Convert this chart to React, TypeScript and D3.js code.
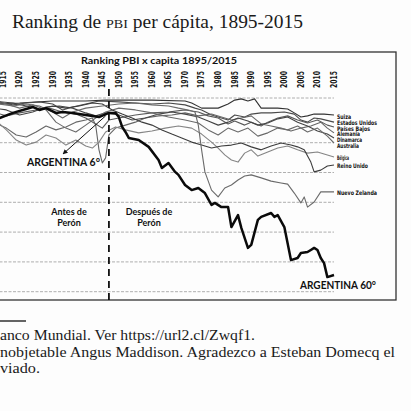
import React from "react";
import * as d3 from "d3";

type P = [number, number];

// ranks per year (rank 0 = top of chart)
const argentina: P[] = [
  [1912, 7.0], [1914, 6.7], [1918, 5.0], [1922, 3.7], [1924, 3.0], [1926, 4.0], [1928, 3.4], [1931, 5.0],
  [1933, 4.7], [1936, 5.0], [1940, 5.7], [1944, 6.4], [1947, 5.0], [1949, 5.0], [1950, 6.4],
  [1951, 9.7], [1952, 11.4], [1953, 13.4], [1956, 14.1], [1959, 16.4], [1962, 20.8], [1963, 23.5],
  [1965, 21.8], [1967, 24.8], [1968, 25.8], [1970, 29.2], [1972, 30.9], [1974, 30.2], [1976, 31.9],
  [1978, 35.9], [1979, 35.2], [1981, 36.6], [1983, 36.6], [1984, 43.3], [1986, 39.3], [1987, 43.6],
  [1989, 50.3], [1990, 49.3], [1992, 40.9], [1993, 39.9], [1996, 38.6], [1997, 39.9], [1998, 39.3],
  [2000, 43.3], [2002, 54.4], [2004, 53.7], [2005, 52.0], [2007, 51.7], [2008, 51.0], [2009, 50.3],
  [2010, 51.0], [2011, 53.7], [2012, 55.4], [2013, 60.1], [2015, 59.4],
];

const suiza: P[] = [
  [1912, 2.0], [1920, 1.7], [1930, 1.0], [1940, 1.0], [1946, 0.7], [1950, 0.7], [1960, 0.7], [1970, 1.0],
  [1972, 1.7], [1975, 3.4], [1980, 3.4], [1983, 2.0], [1985, 0.7], [1987, 0.3], [1989, 1.0], [1991, 0.3],
  [1993, 3.4], [1998, 3.4], [2001, 3.7], [2003, 5.0], [2005, 6.4], [2007, 6.0], [2009, 5.4], [2012, 5.4], [2015, 5.7],
];

const estadosUnidos: P[] = [
  [1912, 1.3], [1918, 2.3], [1922, 1.7], [1926, 1.3], [1930, 2.0], [1933, 4.0], [1936, 3.0], [1940, 2.0],
  [1944, 1.0], [1950, 1.3], [1955, 1.7], [1960, 2.0], [1965, 1.7], [1970, 2.3], [1973, 3.4], [1975, 4.0],
  [1978, 5.7], [1980, 6.4], [1983, 7.4], [1985, 5.7], [1988, 6.4], [1990, 5.4], [1993, 5.0], [1996, 5.0],
  [2000, 4.7], [2003, 5.4], [2005, 7.4], [2007, 8.1], [2009, 6.7], [2011, 7.0], [2015, 8.1],
];

const paisesBajos: P[] = [
  [1912, 4.7], [1916, 6.0], [1920, 5.0], [1925, 4.0], [1929, 3.4], [1933, 4.7], [1937, 5.4], [1940, 6.7],
  [1943, 8.7], [1945, 10.1], [1947, 7.4], [1950, 6.7], [1955, 5.7], [1960, 5.0], [1965, 4.7], [1970, 4.0],
  [1974, 4.7], [1977, 6.0], [1980, 6.7], [1983, 8.7], [1985, 7.7], [1988, 9.1], [1990, 8.1], [1993, 9.4],
  [1995, 8.1], [1998, 6.7], [2001, 6.0], [2004, 7.4], [2007, 8.4], [2010, 7.4], [2013, 9.1], [2015, 9.7],
];

const alemania: P[] = [
  [1912, 8.1], [1916, 10.1], [1919, 12.4], [1922, 13.1], [1925, 11.4], [1928, 9.4], [1931, 10.7],
  [1934, 9.7], [1937, 8.1], [1940, 7.4], [1942, 6.7], [1943, 9.1], [1944, 17.4], [1945, 21.8],
  [1946, 20.1], [1947, 12.4], [1949, 10.1], [1952, 9.1], [1955, 8.1], [1958, 6.7], [1962, 6.0],
  [1966, 5.7], [1970, 5.0], [1974, 6.0], [1978, 5.4], [1981, 6.4], [1984, 7.4], [1987, 6.7], [1990, 6.0],
  [1993, 8.7], [1996, 9.4], [1999, 10.1], [2002, 11.1], [2005, 10.1], [2008, 9.4], [2011, 8.1],
  [2013, 10.1], [2015, 11.7],
];

const dinamarca: P[] = [
  [1912, 3.4], [1916, 4.0], [1920, 5.7], [1924, 4.7], [1928, 3.0], [1932, 2.7], [1936, 3.4], [1940, 5.0],
  [1943, 6.0], [1946, 5.0], [1950, 5.7], [1954, 7.4], [1958, 6.7], [1962, 5.4], [1966, 4.7], [1970, 5.4],
  [1974, 6.4], [1977, 7.7], [1980, 9.1], [1983, 8.1], [1986, 6.7], [1989, 7.7], [1992, 9.1], [1995, 8.4],
  [1998, 7.0], [2001, 6.4], [2004, 8.1], [2007, 9.4], [2010, 11.1], [2013, 12.1], [2015, 13.4],
];

const australia: P[] = [
  [1912, 0.7], [1916, 2.0], [1920, 3.4], [1924, 2.3], [1928, 4.0], [1931, 8.1], [1934, 10.1], [1937, 11.4],
  [1940, 9.1], [1943, 6.7], [1946, 4.7], [1950, 3.4], [1955, 4.0], [1960, 5.0], [1965, 6.4], [1970, 7.4],
  [1974, 8.4], [1977, 10.7], [1980, 12.4], [1983, 10.1], [1986, 11.4], [1989, 10.1], [1992, 12.8],
  [1995, 11.7], [1998, 10.1], [2001, 10.7], [2004, 9.4], [2007, 11.4], [2010, 10.1], [2013, 12.8], [2015, 15.1],
];

const belgica: P[] = [
  [1912, 6.7], [1916, 10.7], [1919, 14.1], [1922, 15.8], [1925, 14.8], [1928, 12.4], [1931, 13.4],
  [1934, 15.8], [1937, 14.1], [1940, 16.1], [1942, 16.8], [1944, 14.8], [1946, 11.4], [1949, 9.7],
  [1952, 10.7], [1956, 11.7], [1960, 11.1], [1964, 10.1], [1968, 9.4], [1972, 10.1], [1975, 12.1],
  [1978, 14.8], [1980, 16.8], [1982, 19.1], [1984, 20.8], [1986, 21.5], [1988, 18.5], [1990, 17.4],
  [1992, 19.5], [1995, 18.1], [1998, 16.8], [2001, 16.1], [2004, 17.4], [2007, 18.5], [2010, 18.1],
  [2013, 19.1], [2015, 19.8],
];

const reinoUnido: P[] = [
  [1912, 1.0], [1918, 1.7], [1922, 2.7], [1926, 3.7], [1930, 2.7], [1934, 3.4], [1938, 2.7], [1942, 1.7],
  [1945, 2.0], [1948, 4.0], [1951, 5.4], [1954, 6.7], [1957, 8.1], [1960, 9.1], [1963, 10.7], [1966, 12.1],
  [1969, 13.4], [1972, 14.8], [1975, 15.8], [1978, 16.8], [1981, 16.1], [1984, 15.8], [1987, 15.1],
  [1990, 16.4], [1993, 17.4], [1996, 16.1], [1999, 15.1], [2002, 15.8], [2004, 16.4], [2006, 17.4],
  [2008, 21.5], [2009, 24.8], [2011, 24.2], [2013, 22.8], [2015, 22.5],
];

const nuevaZelanda: P[] = [
  [1912, 1.7], [1918, 2.7], [1922, 2.0], [1926, 2.7], [1930, 4.7], [1933, 6.7], [1936, 4.7], [1940, 3.4],
  [1945, 2.7], [1950, 2.0], [1955, 1.7], [1960, 2.3], [1965, 2.7], [1968, 3.4], [1971, 4.0], [1973, 4.7],
  [1974, 9.1], [1975, 17.4], [1976, 24.8], [1978, 30.9], [1980, 33.2], [1982, 30.2], [1984, 29.2],
  [1986, 27.5], [1988, 26.2], [1990, 25.8], [1993, 26.8], [1996, 27.9], [1999, 28.5], [2001, 28.9],
  [2003, 31.9], [2005, 35.2], [2006, 33.2], [2007, 36.6], [2009, 34.9], [2011, 31.5], [2015, 31.5],
];

const countryNames = [
  "Suiza", "Estados Unidos", "Países Bajos", "Alemania", "Dinamarca", "Australia", "Bélgica", "Reino Unido", "Nuevo Zelanda",
];
const countrySeries = [suiza, estadosUnidos, paisesBajos, alemania, dinamarca, australia, belgica, reinoUnido, nuevaZelanda];

const yearTicks = d3.range(1915, 2016, 5);
const gridRanks = [0, 15, 25, 35, 45, 55, 65];
const peronYear = 1947;

const pageTitle = "Ranking de ";
const pageTitleSc = "PBI";
const pageTitleEnd = " per cápita, 1895-2015";
const chartTitle = "Ranking PBI x capita 1895/2015";
const footLines = [
  "anco Mundial. Ver https://url2.cl/Zwqf1.",
  "nobjetable Angus Maddison. Agradezco a Esteban Domecq el",
  "viado.",
];

export default function App() {
  const x = d3.scaleLinear().domain([1915, 2015]).range([3, 334]);
  const y = d3.scaleLinear().domain([0, 65]).range([98, 291.7]);
  const line = d3.line<P>().x((d) => x(d[0])).y((d) => y(d[1]));

  const seriesColors = ["#333", "#4a4a4a", "#5a5a5a", "#666", "#444", "#6a6a6a", "#858585", "#3c3c3c", "#6a6a6a"];
  const labelY = [116.5, 122.5, 128.5, 134.3, 140.1, 146, 157.5, 166, 192.5];
  const labelW = [14, 40, 33, 23, 25, 22, 12, 31, 40];
  const footW = [255, 395, 40];
  const cond = "'DejaVu Sans Condensed', 'DejaVu Sans', sans-serif";
  const bold = "Lato, 'DejaVu Sans', sans-serif";
  const serif = "'Liberation Serif', 'DejaVu Serif', serif";

  return (
    <svg
      width={411}
      height={411}
      style={{ position: "absolute", left: 0, top: 0, background: "#fdfdfd" }}
    >
      <rect x={0} y={0} width={411} height={411} fill="#fdfdfd" />
      {/* page title */}
      <text x={12} y={28} fontFamily={serif} fontSize={18} fill="#1a1a1a" textLength={291} lengthAdjust="spacingAndGlyphs">
        {pageTitle}
        <tspan fontSize={13}>{pageTitleSc}</tspan>
        {pageTitleEnd}
      </text>

      {/* frame */}
      <rect x={-5} y={52} width={401} height={248} fill="none" stroke="#333" strokeWidth={1.3} />

      <text x={159} y={64} textAnchor="middle" fontFamily={bold} fontWeight={700} fontSize={10} fill="#111" textLength={156} lengthAdjust="spacingAndGlyphs">
        {chartTitle}
      </text>

      {/* year labels */}
      {yearTicks.map((t) => (
        <text
          key={t}
          transform={`translate(${x(t)},88) rotate(-90)`}
          dy="0.36em"
          fontFamily={cond}
          fontWeight={700}
          fontSize={8}
          fill="#111"
          textLength={17}
          lengthAdjust="spacingAndGlyphs"
        >
          {t}
        </text>
      ))}

      {/* grid */}
      {gridRanks.map((r) => (
        <line key={r} x1={-5} x2={x(2015)} y1={y(r)} y2={y(r)} stroke="#9a9a9a" strokeWidth={0.8} strokeDasharray="3 1.5" />
      ))}

      {/* country lines */}
      {countrySeries.map((s, i) => (
        <path key={i} d={line(s) || ""} fill="none" stroke={seriesColors[i]} strokeWidth={1.1} strokeLinejoin="round" />
      ))}

      {/* Argentina */}
      <path d={line(argentina) || ""} fill="none" stroke="#0a0a0a" strokeWidth={2.5} strokeLinejoin="round" />

      {/* Perón dashed line */}
      <line x1={x(peronYear)} x2={x(peronYear)} y1={89} y2={300} stroke="#111" strokeWidth={1.8} strokeDasharray="7 5" />

      {/* country labels */}
      {countryNames.map((n, i) => (
        <text
          key={n}
          x={337}
          y={labelY[i]}
          dy="0.35em"
          fontFamily={cond}
          fontWeight={700}
          fontSize={6.2}
          fill="#111"
          textLength={labelW[i]}
          lengthAdjust="spacingAndGlyphs"
        >
          {n}
        </text>
      ))}

      {/* Argentina annotations */}
      <defs>
        <marker id="ah" viewBox="0 0 10 10" refX={9} refY={5} markerWidth={5} markerHeight={5} orient="auto">
          <path d="M0,0 L10,5 L0,10 z" fill="#111" />
        </marker>
      </defs>
      <line x1={x(1946)} y1={y(6)} x2={63} y2={154} stroke="#111" strokeWidth={1} markerEnd="url(#ah)" />
      <text x={27} y={166} fontFamily={bold} fontWeight={700} fontSize={10.5} fill="#111" textLength={73} lengthAdjust="spacingAndGlyphs">
        ARGENTINA 6°
      </text>
      <text x={300} y={289} fontFamily={bold} fontWeight={700} fontSize={10.5} fill="#111" textLength={76} lengthAdjust="spacingAndGlyphs">
        ARGENTINA 60°
      </text>

      <g fontFamily={bold} fontWeight={700} fontSize={9} fill="#111" textAnchor="middle">
        <text x={69} y={215}>Antes de</text>
        <text x={69} y={226}>Perón</text>
        <text x={149} y={215}>Después de</text>
        <text x={149} y={226}>Perón</text>
      </g>

      {/* footnote */}
      <line x1={0} x2={26} y1={321} y2={321} stroke="#222" strokeWidth={1.4} />
      {footLines.map((t, i) => (
        <text key={i} x={0} y={340 + i * 16.5} fontFamily={serif} fontSize={15} fill="#1a1a1a" textLength={footW[i]} lengthAdjust="spacingAndGlyphs">
          {t}
        </text>
      ))}
    </svg>
  );
}
